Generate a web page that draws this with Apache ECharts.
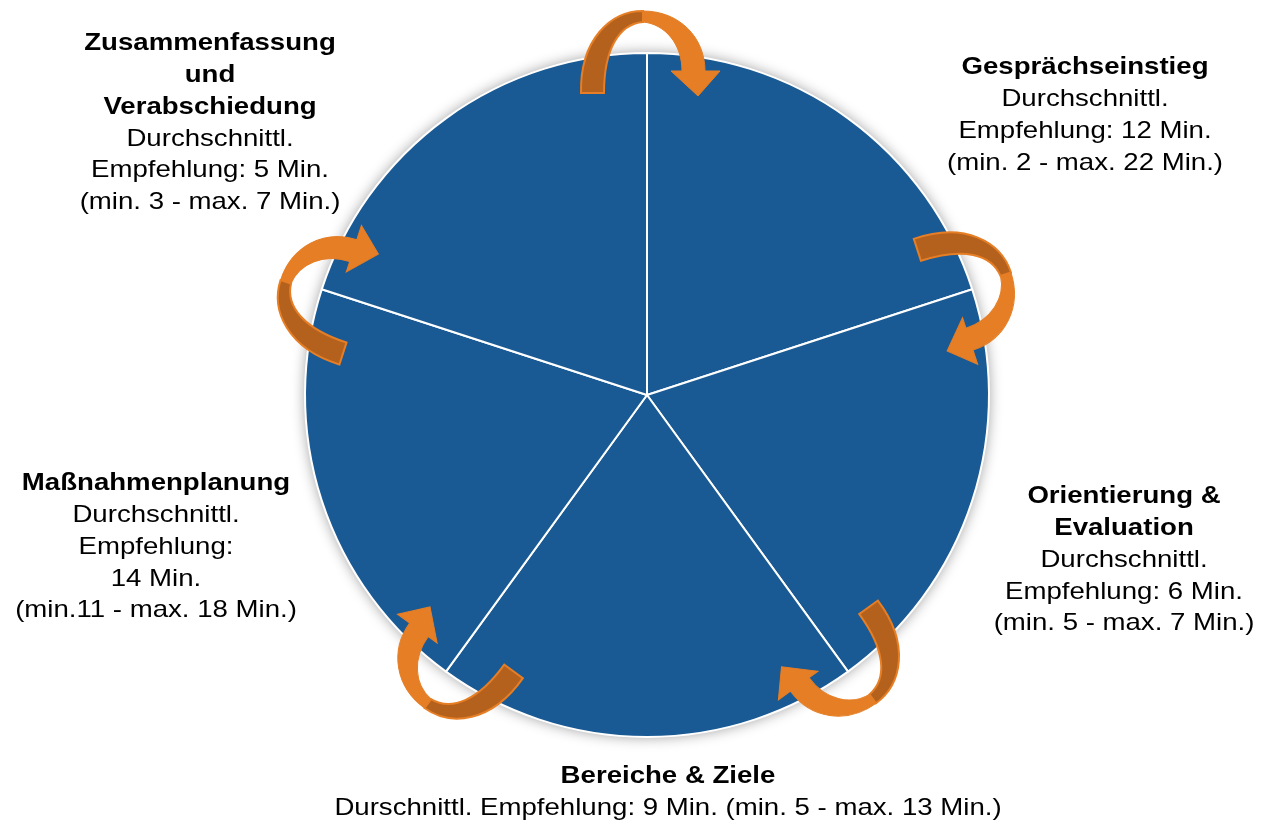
<!DOCTYPE html>
<html>
<head>
<meta charset="utf-8">
<script src="https://cdn.jsdelivr.net/npm/echarts@6/dist/echarts.min.js"></script>
<style>
html,body{margin:0;padding:0;background:#fff;}
#chart{width:1265px;height:820px;}
</style>
</head>
<body>
<div id="chart"></div>
<script>
var myChart = echarts.init(document.getElementById('chart'));

// Phasen des Gesprächs (im Uhrzeigersinn, beginnend oben rechts)
var phases = ['Gesprächseinstieg', 'Orientierung & Evaluation', 'Bereiche & Ziele', 'Maßnahmenplanung', 'Zusammenfassung und Verabschiedung'];
// alle Segmente gleich groß
var shares = [1, 1, 1, 1, 1];
// Überschriften (fett) je Phase
var titleLines = [
	['Gesprächseinstieg'],
	['Orientierung &', 'Evaluation'],
	['Bereiche & Ziele'],
	['Maßnahmenplanung'],
	['Zusammenfassung', 'und', 'Verabschiedung']
];
// Empfehlungstexte je Phase
var detailLines = [
	['Durchschnittl.', 'Empfehlung: 12 Min.', '(min. 2 - max. 22 Min.)'],
	['Durchschnittl.', 'Empfehlung: 6 Min.', '(min. 5 - max. 7 Min.)'],
	['Durschnittl. Empfehlung: 9 Min. (min. 5 - max. 13 Min.)'],
	['Durchschnittl.', 'Empfehlung:', '14 Min.', '(min.11 - max. 18 Min.)'],
	['Durchschnittl.', 'Empfehlung: 5 Min.', '(min. 3 - max. 7 Min.)']
];

// Layout
var cx = 647, cy = 395, radius = 342;
var labelPos = [[1085, 52], [1124, 481], [668, 761], [156, 468], [210, 28]];
var fontFam = "'Liberation Sans', Arial, sans-serif";

var graphics = [];

// Beschriftungen
phases.forEach(function(p, i) {
	var parts = [];
	titleLines[i].forEach(function(t) { parts.push('{b|' + t + '}'); });
	detailLines[i].forEach(function(t) { parts.push('{n|' + t + '}'); });
	graphics.push({
		type: 'text',
		x: labelPos[i][0],
		y: labelPos[i][1],
		scaleX: 1.15,
		silent: true,
		style: {
			text: parts.join('\n'),
			align: 'center',
			verticalAlign: 'top',
			fill: '#000',
			rich: {
				b: {fontSize: 24, fontWeight: 'bold', lineHeight: 31.7, fontFamily: fontFam, fill: '#000'},
				n: {fontSize: 24, fontWeight: 'normal', lineHeight: 31.7, fontFamily: fontFam, fill: '#000'}
			}
		}
	});
});

// gebogene Pfeile an den Segmentgrenzen (Form oben definiert, dann gedreht)
var backPath = 'M-66,-302 C-67,-356 -36,-384 -4,-384 L-4,-373 C-28,-371 -43,-346 -43,-302 Z';
var frontPath = 'M-4,-384 C32,-384 58,-358 58,-324 L73,-324 L51,-299 L24,-324 L35,-324 C35,-351 18,-371 -4,-373 Z';

function renderArrow(params, api) {
	var k = params.dataIndex;
	return {
		type: 'group',
		x: cx,
		y: cy,
		rotation: -k * 72 * Math.PI / 180,
		children: [{
			type: 'path',
			shape: {pathData: backPath},
			style: {fill: '#B5611E', stroke: '#E57E25', lineWidth: 2}
		}, {
			type: 'path',
			shape: {pathData: frontPath},
			style: {fill: '#E57E25', stroke: '#E57E25', lineWidth: 1}
		}]
	};
}

var option = {
	backgroundColor: '#fff',
	animation: false,
	series: [{
		// Schatten der Scheibe
		type: 'pie',
		center: [cx, cy],
		radius: radius,
		silent: true,
		z: 1,
		label: {show: false},
		labelLine: {show: false},
		itemStyle: {
			color: '#fff',
			shadowColor: 'rgba(0,0,0,0.4)',
			shadowBlur: 14
		},
		data: [{name: '', value: 1}]
	}, {
		type: 'pie',
		center: [cx, cy],
		radius: radius,
		startAngle: 90,
		clockwise: true,
		silent: true,
		z: 2,
		label: {show: false},
		labelLine: {show: false},
		itemStyle: {
			color: '#1A5A94',
			borderColor: '#fff',
			borderWidth: 2
		},
		data: phases.map(function(p, i) {
			return {name: p, value: shares[i]};
		})
	}, {
		type: 'custom',
		coordinateSystem: 'none',
		silent: true,
		z: 10,
		renderItem: renderArrow,
		data: shares.map(function(s, i) { return [i]; })
	}],
	graphic: graphics
};
myChart.setOption(option);
</script>
</body>
</html>
